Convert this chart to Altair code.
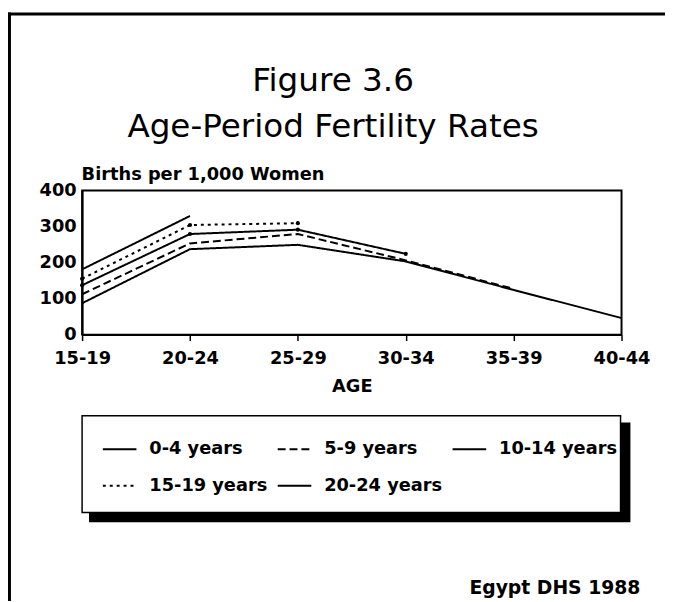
import altair as alt
import pandas as pd

# ---- data ----
ages = ["15-19", "20-24", "25-29", "30-34", "35-39", "40-44"]
periods = ["0-4 years", "5-9 years", "10-14 years", "15-19 years", "20-24 years"]
rate_0_4 = [87, 237, 249, 203, 124, 46]
rate_5_9 = [112, 253, 279, 206, 127]
rate_10_14 = [137, 279, 291, 224]
rate_15_19 = [155, 304, 309]
rate_20_24 = [181, 329]
y_ticks = [0, 100, 200, 300, 400]
dash_of = {
    "0-4 years": [1, 0],
    "5-9 years": [8, 4],
    "10-14 years": [1, 0],
    "15-19 years": [3, 4],
    "20-24 years": [1, 0],
}
# legend fills column by column (2 rows): order so rows read 0-4, 5-9, 10-14 / 15-19, 20-24
legend_order = ["0-4 years", "15-19 years", "5-9 years", "20-24 years", "10-14 years"]
marked_periods = ["10-14 years", "15-19 years"]

title_1 = "Figure 3.6"
title_2 = "Age-Period Fertility Rates"
y_title = "Births per 1,000 Women"
x_title = "AGE"
source_note = "Egypt DHS 1988"

series = [rate_0_4, rate_5_9, rate_10_14, rate_15_19, rate_20_24]
rows = []
for p, vals in zip(periods, series):
    for a, v in zip(ages, vals):
        rows.append({"age": a, "period": p, "rate": v})
df = pd.DataFrame(rows)
df_marked = df[df["period"].isin(marked_periods)]

FONT = "DejaVu Sans"
W, H = 546, 146
one = pd.DataFrame({"k": [0]})

x_axis = alt.Axis(
    title=x_title, labelAngle=0, labelFont=FONT, labelFontSize=18,
    labelFontWeight="bold", labelColor="black", labelPadding=9,
    ticks=True, tickSize=6, tickWidth=1.5, tickColor="black",
    domainColor="black", domainWidth=2, grid=False,
    titleFont=FONT, titleFontSize=18, titleFontWeight="bold",
    titleColor="black", titleBaseline="alphabetic", titleY=58,
)
y_axis = alt.Axis(
    values=y_ticks, tickCount=5, title=y_title, titleAngle=0, titleAlign="left",
    titleBaseline="alphabetic", titleX=-1, titleY=-11,
    titleFont=FONT, titleFontSize=18, titleFontWeight="bold", titleColor="black",
    labelFont=FONT, labelFontSize=18, labelFontWeight="bold", labelColor="black",
    labelPadding=6, labelOverlap=False, labelBound=False, labelFlush=False, tickSize=0,
    domainColor="black", domainWidth=2, grid=False,
)
x_enc = alt.X("age:O", scale=alt.Scale(domain=ages, padding=0), axis=x_axis)
y_enc = alt.Y("rate:Q", scale=alt.Scale(domain=[0, 400], nice=False), axis=y_axis)

lines = alt.Chart(df).mark_line(color="black", strokeWidth=2).encode(
    x=x_enc,
    y=y_enc,
    strokeDash=alt.StrokeDash(
        "period:N",
        scale=alt.Scale(domain=legend_order, range=[dash_of[p] for p in legend_order]),
        legend=alt.Legend(
            title=None, orient="none", legendX=20, legendY=244, columns=3,
            symbolType="stroke", symbolSize=1156, symbolStrokeWidth=2,
            symbolStrokeColor="black", labelFont=FONT, labelFontSize=18,
            labelFontWeight="bold", labelColor="black", labelOffset=12,
            columnPadding=6, rowPadding=10, padding=0,
        ),
    ),
    detail="period:N",
)

points = alt.Chart(df_marked).mark_point(
    filled=True, color="black", size=18, opacity=1
).encode(x=x_enc, y=y_enc)

shadow = alt.Chart(one).mark_rect(color="black").encode(
    x=alt.value(7), x2=alt.value(555), y=alt.value(235), y2=alt.value(336)
)
box = alt.Chart(one).mark_rect(fill="white", stroke="black", strokeWidth=1.5).encode(
    x=alt.value(0), x2=alt.value(545), y=alt.value(228), y2=alt.value(326)
)
frame_left = alt.Chart(one).mark_rule(color="black", strokeWidth=3).encode(
    x=alt.value(-73.5), y=alt.value(-180), y2=alt.value(420)
)
frame_top = alt.Chart(one).mark_rule(color="black", strokeWidth=3).encode(
    x=alt.value(-75), x2=alt.value(600), y=alt.value(-178.5)
)

def text_layer(txt, x, y, size, weight, align):
    return alt.Chart(pd.DataFrame({"t": [txt]})).mark_text(
        font=FONT, fontSize=size, fontWeight=weight, align=align,
        baseline="alphabetic", color="black",
    ).encode(text="t:N", x=alt.value(x), y=alt.value(y))

t1 = text_layer(title_1, 254, -101, 33, "normal", "center")
t2 = text_layer(title_2, 254, -54, 33, "normal", "center")
note = text_layer(source_note, 392, 409, 19, "bold", "left")

chart = alt.layer(
    frame_left, frame_top, shadow, box, lines, points, t1, t2, note
).properties(
    width=W, height=H,
    background="white",
    autosize=alt.AutoSizeParams(type="none"),
    padding={"left": 75, "top": 181, "right": 44, "bottom": 266},
).configure_view(
    stroke="black", strokeWidth=2
)

chart.save("out.html", embed_options={"renderer": "svg", "actions": False})
